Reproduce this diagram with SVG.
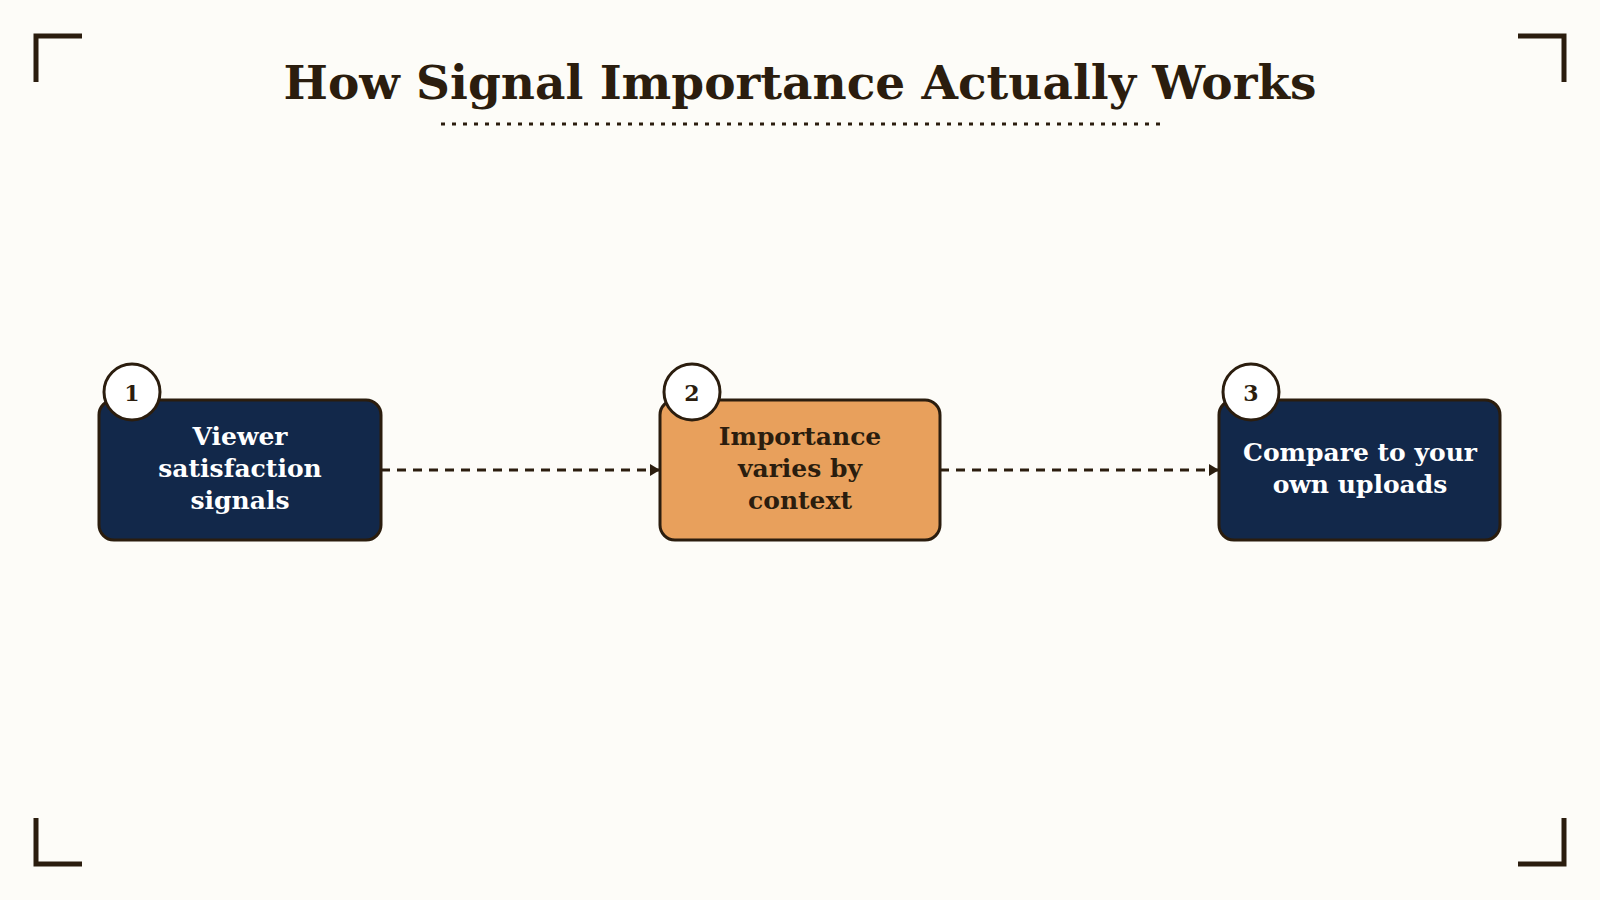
<svg xmlns="http://www.w3.org/2000/svg" width="1600" height="900" viewBox="0 0 1600 900">
<style>
.t{font-family:"DejaVu Serif","Liberation Serif",serif;font-weight:bold}
.box{stroke:#2b1d0e;stroke-width:3}
.num{fill:#fff;stroke:#2b1d0e;stroke-width:3}
.br{fill:none;stroke:#2b1d0e;stroke-width:5}
.con{stroke:#2b1d0e;stroke-width:3;stroke-dasharray:9 7;fill:none}
</style>
<defs><marker id="ah" markerWidth="10" markerHeight="12" refX="9" refY="6" orient="auto" markerUnits="userSpaceOnUse"><path d="M0,0 L10,6 L0,12 Z" fill="#2b1d0e"/></marker></defs>
<rect width="1600" height="900" fill="#fdfcf8"/>
<path class="br" d="M36,82 V36 H82 M1518,36 H1564 V82 M36,818 V864 H82 M1518,864 H1564 V818"/>
<text class="t" x="800" y="99" text-anchor="middle" font-size="47" fill="#2b1d0e">How Signal Importance Actually Works</text>
<line x1="441" y1="124" x2="1160" y2="124" stroke="#2b1d0e" stroke-width="3" stroke-dasharray="4 7"/>
<g id="connectors">
<line class="con" x1="381" y1="470" x2="659" y2="470" marker-end="url(#ah)"/>
<line class="con" x1="940" y1="470" x2="1218" y2="470" marker-end="url(#ah)"/>
</g>
<g id="node1">
<rect class="box" x="99" y="400" width="282" height="140" rx="15" fill="#12284a"/>
<circle class="num" cx="132" cy="392" r="28"/>
<text class="t" x="132" y="401" text-anchor="middle" font-size="22" fill="#2b1d0e">1</text>
<text class="t" x="240" y="445" text-anchor="middle" font-size="25" fill="#fff">Viewer</text>
<text class="t" x="240" y="477" text-anchor="middle" font-size="25" fill="#fff">satisfaction</text>
<text class="t" x="240" y="509" text-anchor="middle" font-size="25" fill="#fff">signals</text>
</g>
<g id="node2">
<rect class="box" x="660" y="400" width="280" height="140" rx="15" fill="#e8a05c"/>
<circle class="num" cx="692" cy="392" r="28"/>
<text class="t" x="692" y="401" text-anchor="middle" font-size="22" fill="#2b1d0e">2</text>
<text class="t" x="800" y="445" text-anchor="middle" font-size="25" fill="#2b1d0e">Importance</text>
<text class="t" x="800" y="477" text-anchor="middle" font-size="25" fill="#2b1d0e">varies by</text>
<text class="t" x="800" y="509" text-anchor="middle" font-size="25" fill="#2b1d0e">context</text>
</g>
<g id="node3">
<rect class="box" x="1219" y="400" width="281" height="140" rx="15" fill="#12284a"/>
<circle class="num" cx="1251" cy="392" r="28"/>
<text class="t" x="1251" y="401" text-anchor="middle" font-size="22" fill="#2b1d0e">3</text>
<text class="t" x="1360" y="461" text-anchor="middle" font-size="25" fill="#fff">Compare to your</text>
<text class="t" x="1360" y="493" text-anchor="middle" font-size="25" fill="#fff">own uploads</text>
</g>
</svg>
